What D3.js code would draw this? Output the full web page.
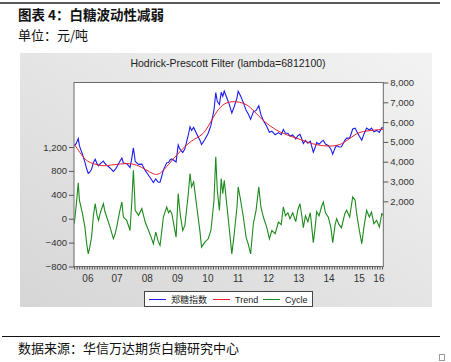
<!DOCTYPE html>
<html lang="zh">
<head>
<meta charset="UTF-8" />
<title>白糖波动性减弱</title>
<style>
  body { margin: 0; background: #fff; }
  svg { display: block; }
</style>
</head>
<body>
<svg id="chart" width="451" height="362"></svg>

<script src="https://d3js.org/d3.v7.min.js"></script>
<script>
// sample dates as decimal years (roughly every 2-4 weeks)
const dates = [
  2006.09, 2006.15, 2006.22, 2006.26, 2006.36, 2006.44, 2006.50, 2006.55, 2006.60, 2006.66,
  2006.72, 2006.78, 2006.84, 2006.89, 2006.95, 2007.05, 2007.10, 2007.16, 2007.27, 2007.38,
  2007.44, 2007.49, 2007.58, 2007.66, 2007.71, 2007.82, 2007.93, 2007.99, 2008.04, 2008.08,
  2008.10, 2008.21, 2008.32, 2008.43, 2008.54, 2008.62, 2008.70, 2008.78, 2008.86, 2008.92,
  2008.98, 2009.03, 2009.14, 2009.20, 2009.25, 2009.31, 2009.36, 2009.45, 2009.52, 2009.56,
  2009.60, 2009.67, 2009.74, 2009.85, 2009.91, 2009.96, 2010.03, 2010.12, 2010.24, 2010.29,
  2010.40, 2010.51, 2010.60, 2010.70, 2010.76, 2010.81, 2010.88, 2010.94, 2010.99, 2011.04,
  2011.12, 2011.20, 2011.29, 2011.37, 2011.46, 2011.50, 2011.58, 2011.67, 2011.76, 2011.83,
  2011.91, 2012.00, 2012.09, 2012.18, 2012.25, 2012.33, 2012.44, 2012.53, 2012.61, 2012.72,
  2012.83, 2012.92, 2012.99, 2013.06, 2013.14, 2013.21, 2013.30, 2013.40, 2013.47, 2013.54,
  2013.60, 2013.65, 2013.72, 2013.80, 2013.88, 2013.93, 2013.98, 2014.04, 2014.09, 2014.17,
  2014.25, 2014.31, 2014.38, 2014.48, 2014.56, 2014.62, 2014.70, 2014.75, 2014.83, 2014.91,
  2015.02, 2015.08, 2015.18, 2015.28, 2015.36, 2015.41, 2015.50, 2015.58, 2015.65, 2015.74,
  2015.83, 2015.90, 2015.98, 2016.07, 2016.16, 2016.24, 2016.28
];

// 郑糖指数 (right axis)
const price = [
  4800, 4915, 5170, 4798, 4369, 3979, 3630, 3412, 3470, 3616,
  3950, 4122, 3905, 3797, 3905, 4032, 3910, 3828, 3684, 3509,
  3608, 3726, 3985, 4180, 3938, 3902, 3710, 4195, 4697, 4275,
  4010, 3864, 3881, 3561, 3320, 3144, 2950, 3126, 2962, 2966,
  3290, 3578, 3946, 3960, 4090, 4139, 4087, 3991, 4845, 4695,
  4588, 4463, 4653, 5325, 5766, 5582, 5731, 5442, 5076, 4869,
  5123, 5442, 5833, 6600, 7486, 7051, 6890, 7507, 7298, 7565,
  7242, 6919, 6462, 6788, 7226, 7559, 7316, 6984, 6594, 6418,
  6138, 6516, 6590, 6832, 6379, 6078, 5787, 5491, 5541, 5364,
  5468, 5369, 5627, 5435, 5436, 5295, 5350, 5150, 5315, 5380,
  5146, 4918, 5078, 4932, 5037, 4758, 4480, 4715, 4972, 4882,
  5012, 5080, 4895, 4810, 4635, 4380, 4700, 4817, 4743, 4752,
  5082, 5190, 5192, 5652, 5696, 5534, 5284, 5089, 5392, 5697,
  5600, 5695, 5513, 5582, 5482, 5718, 5700
];

// Cycle (left axis)
const cycle = [
  -80, 200, 600, 308, 84, -141, -420, -588, -480, -309,
  50, 252, 60, -28, 100, 252, 120, 28, -141, -336,
  -250, -141, 100, 280, 28, -28, -197, 300, 812, 400,
  140, 56, 168, -56, -197, -300, -420, -224, -380, -449,
  -200, 28, 196, 100, 140, 84, -56, -309, 420, 200,
  28, -197, -112, 400, 756, 532, 616, 252, -224, -476,
  -392, -336, -197, 300, 1036, 476, 140, 672, 420, 644,
  252, -141, -588, -252, 196, 532, 308, 28, -309, -420,
  -588, -84, 140, 532, 196, 28, -141, -336, -197, -252,
  -56, -100, 200, 50, 100, 0, 100, -50, 150, 250,
  50, -150, 50, -50, 100, -150, -400, -150, 120, 50,
  200, 280, 100, 20, -150, -400, -100, 0, -100, -150,
  84, 140, 28, 364, 308, 84, -197, -420, -141, 140,
  28, 112, -84, -28, -141, 84, 60
];

// Trend (right axis), smooth HP trend knots
const trendDates = [
  2006.09, 2006.28, 2006.45, 2006.60, 2006.90, 2007.05, 2007.40, 2007.82, 2008.15, 2008.45,
  2008.70, 2008.85, 2009.03, 2009.25, 2009.58, 2009.90, 2010.13, 2010.35, 2010.50, 2010.68,
  2010.90, 2011.20, 2011.56, 2011.80, 2012.00, 2012.33, 2012.77, 2013.20, 2013.54, 2013.98,
  2014.30, 2014.64, 2014.85, 2015.08, 2015.41, 2015.70, 2016.00, 2016.28
];
const trend = [
  4880, 4450, 4100, 3950, 3820, 3780, 3850, 3930, 3860, 3600,
  3370, 3330, 3550, 3950, 4530, 5000, 5200, 5400, 5750, 6250,
  6800, 7060, 7020, 6880, 6600, 6050, 5560, 5300, 5130, 4880,
  4800, 4780, 4850, 5050, 5450, 5550, 5600, 5640
];

const yearLabels = ["06", "07", "08", "09", "10", "11", "12", "13", "14", "15", "16"];
const leftTicks = [-800, -400, 0, 400, 800, 1200];
const rightTicks = [2000, 3000, 4000, 5000, 6000, 7000, 8000];
const seriesNames = ["郑糖指数", "Trend", "Cycle"];

const svg = d3.select("#chart");
const cjk = "'Noto Sans CJK SC', 'Noto Sans', sans-serif";
const latin = "'Liberation Sans', Arial, sans-serif";

const colors = { price: "#1c1cf0", trend: "#e8202a", cycle: "#1d8a1d" };

// header / footer
svg.append("line").attr("x1", 0).attr("x2", 440).attr("y1", 3).attr("y2", 3)
  .attr("stroke", "#222").attr("stroke-width", 1.5);
svg.append("text").attr("x", 18).attr("y", 20)
  .attr("font-family", cjk).attr("font-size", 13.5).attr("font-weight", "bold")
  .attr("fill", "#111").text("图表 4：白糖波动性减弱");
svg.append("text").attr("x", 18).attr("y", 40)
  .attr("font-family", cjk).attr("font-size", 13).attr("fill", "#111").text("单位：元/吨");

svg.append("line").attr("x1", 2).attr("x2", 440).attr("y1", 336.5).attr("y2", 336.5)
  .attr("stroke", "#111").attr("stroke-width", 1);
svg.append("text").attr("x", 18).attr("y", 353)
  .attr("font-family", cjk).attr("font-size", 13).attr("fill", "#111")
  .text("数据来源：华信万达期货白糖研究中心");
svg.append("rect").attr("x", 439.5).attr("y", 354.5).attr("width", 5).attr("height", 6)
  .attr("fill", "none").attr("stroke", "#999");

// gray panel
const defs = svg.append("defs");
const grad = defs.append("linearGradient").attr("id", "panelGrad")
  .attr("x1", "0%").attr("y1", "100%").attr("x2", "100%").attr("y2", "0%");
grad.append("stop").attr("offset", "0%").attr("stop-color", "#d6d6d6");
grad.append("stop").attr("offset", "100%").attr("stop-color", "#f3f3f3");

svg.append("rect").attr("x", 20).attr("y", 53).attr("width", 412).attr("height", 254)
  .attr("fill", "url(#panelGrad)");

svg.append("text").attr("x", 228).attr("y", 67).attr("text-anchor", "middle")
  .attr("font-family", latin).attr("font-size", 10.5).attr("fill", "#222")
  .text("Hodrick-Prescott Filter (lambda=6812100)");

// plot area
const plot = { left: 74, right: 383.3, top: 82.5, bottom: 266.5 };

const x = d3.scaleLinear().domain([2006.08, 2016.29]).range([plot.left, plot.right]);
const yL = d3.scaleLinear().domain([-800, 2280]).range([plot.bottom, plot.top]);
const yR = d3.scaleLinear().domain([-1290, 8000]).range([plot.bottom, plot.top]);

svg.append("rect").attr("x", plot.left).attr("y", plot.top)
  .attr("width", plot.right - plot.left).attr("height", plot.bottom - plot.top)
  .attr("fill", "#fff");

const clip = defs.append("clipPath").attr("id", "plotClip");
clip.append("rect").attr("x", plot.left).attr("y", plot.top)
  .attr("width", plot.right - plot.left).attr("height", plot.bottom - plot.top);

const g = svg.append("g").attr("clip-path", "url(#plotClip)");

const cycleLine = d3.line().x((d, i) => x(dates[i])).y(d => yL(d));
const priceLine = d3.line().x((d, i) => x(dates[i])).y(d => yR(d));
const trendLine = d3.line().x((d, i) => x(trendDates[i])).y(d => yR(d)).curve(d3.curveBasis);

g.append("path").datum(cycle).attr("d", cycleLine)
  .attr("fill", "none").attr("stroke", colors.cycle).attr("stroke-width", 1.1);
g.append("path").datum(price).attr("d", priceLine)
  .attr("fill", "none").attr("stroke", colors.price).attr("stroke-width", 1.1);
g.append("path").datum(trend).attr("d", trendLine)
  .attr("fill", "none").attr("stroke", colors.trend).attr("stroke-width", 1);

// frame
svg.append("rect").attr("x", plot.left).attr("y", plot.top)
  .attr("width", plot.right - plot.left).attr("height", plot.bottom - plot.top)
  .attr("fill", "none").attr("stroke", "#6a6a6a").attr("stroke-width", 1);

// left axis
const axisL = svg.append("g").attr("transform", `translate(${plot.left},0)`)
  .call(d3.axisLeft(yL).tickValues(leftTicks).tickSize(5).tickPadding(2)
    .tickFormat(d3.format(",")));
// right axis
const axisR = svg.append("g").attr("transform", `translate(${plot.right},0)`)
  .call(d3.axisRight(yR).tickValues(rightTicks).tickSize(5).tickPadding(2)
    .tickFormat(d3.format(",")));

// bottom axis: monthly minor ticks, year labels centred in each year
const months = d3.range(0, 123).map(k => 2006 + (k + 1) / 12).filter(t => t < 2016.29);
const axisB = svg.append("g").attr("transform", `translate(0,${plot.bottom})`)
  .call(d3.axisBottom(x).tickValues(months).tickSize(3).tickFormat(""));

const labelPos = yearLabels.map((s, i) => {
  const y0 = 2006 + i;
  const y1 = Math.min(y0 + 1, 2016.29);
  return (Math.max(y0, 2006.08) + y1) / 2;
});
svg.append("g").selectAll("text").data(yearLabels).join("text")
  .attr("x", (d, i) => x(labelPos[i])).attr("y", 282)
  .attr("text-anchor", "middle").attr("font-family", latin).attr("font-size", 10)
  .attr("fill", "#333").text(d => d);

[axisL, axisR, axisB].forEach(a => {
  a.select(".domain").remove();
  a.selectAll("line").attr("stroke", "#555");
  a.selectAll("text").attr("font-family", latin).attr("font-size", 9.5).attr("fill", "#333");
});

// legend
const legend = svg.append("g");
legend.append("rect").attr("x", 144.5).attr("y", 291.5).attr("width", 168).attr("height", 15)
  .attr("fill", "#fff").attr("stroke", "#444");
const legendItems = [
  { name: seriesNames[0], color: colors.price, x: 149, font: cjk },
  { name: seriesNames[1], color: colors.trend, x: 213, font: latin },
  { name: seriesNames[2], color: colors.cycle, x: 263, font: latin }
];
legendItems.forEach(it => {
  legend.append("line").attr("x1", it.x).attr("x2", it.x + 17).attr("y1", 299.5).attr("y2", 299.5)
    .attr("stroke", it.color).attr("stroke-width", 1);
  legend.append("text").attr("x", it.x + 22).attr("y", 303)
    .attr("font-family", it.font).attr("font-size", 9).attr("fill", "#222").text(it.name);
});
</script>
</body>
</html>
